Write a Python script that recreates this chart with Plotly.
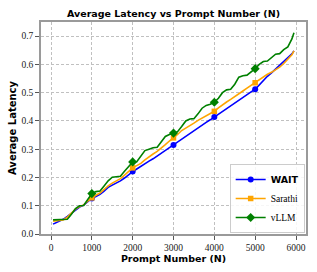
import plotly.graph_objects as go

prompt_n = [50, 100, 200, 300, 400, 500, 600, 700, 800, 900,
            1000, 1100, 1200, 1300, 1400, 1500, 1600, 1700, 1800, 1900,
            2000, 2100, 2200, 2300, 2400, 2500, 2600, 2700, 2800, 2900,
            3000, 3100, 3200, 3300, 3400, 3500, 3600, 3700, 3800, 3900,
            4000, 4100, 4200, 4300, 4400, 4500, 4600, 4700, 4800, 4900,
            5000, 5100, 5200, 5300, 5400, 5500, 5600, 5700, 5800, 5900, 5950]

wait_latency = [0.035, 0.038, 0.045, 0.052, 0.062, 0.074, 0.086, 0.095, 0.102, 0.114,
                0.126, 0.133, 0.140, 0.152, 0.165, 0.173, 0.180, 0.188, 0.198, 0.210,
                0.221, 0.230, 0.240, 0.250, 0.258, 0.266, 0.276, 0.285, 0.295, 0.306,
                0.315, 0.325, 0.338, 0.347, 0.356, 0.366, 0.377, 0.386, 0.395, 0.404,
                0.414, 0.425, 0.435, 0.445, 0.455, 0.466, 0.474, 0.483, 0.493, 0.503,
                0.512, 0.528, 0.545, 0.558, 0.570, 0.583, 0.597, 0.610, 0.623, 0.637, 0.648]

sarathi_latency = [0.045, 0.046, 0.048, 0.050, 0.060, 0.075, 0.088, 0.097, 0.103, 0.116,
                   0.128, 0.137, 0.145, 0.158, 0.170, 0.180, 0.188, 0.196, 0.208, 0.221,
                   0.234, 0.242, 0.250, 0.262, 0.274, 0.283, 0.292, 0.303, 0.316, 0.329,
                   0.340, 0.352, 0.366, 0.374, 0.382, 0.392, 0.402, 0.410, 0.418, 0.426,
                   0.434, 0.446, 0.458, 0.467, 0.476, 0.487, 0.497, 0.506, 0.516, 0.526,
                   0.535, 0.548, 0.558, 0.565, 0.572, 0.580, 0.590, 0.603, 0.617, 0.634, 0.648]

vllm_latency = [0.050, 0.050, 0.050, 0.050, 0.052, 0.070, 0.090, 0.100, 0.101, 0.122,
                0.143, 0.150, 0.152, 0.170, 0.188, 0.201, 0.202, 0.204, 0.222, 0.240,
                0.255, 0.256, 0.275, 0.295, 0.300, 0.305, 0.307, 0.328, 0.345, 0.352,
                0.357, 0.362, 0.380, 0.400, 0.407, 0.408, 0.425, 0.445, 0.455, 0.459,
                0.466, 0.480, 0.500, 0.510, 0.512, 0.530, 0.555, 0.560, 0.562, 0.572,
                0.585, 0.600, 0.610, 0.612, 0.625, 0.636, 0.638, 0.652, 0.662, 0.690, 0.712]

marker_every = 1000
x_ticks = [0, 1000, 2000, 3000, 4000, 5000, 6000]
y_ticks = [0.0, 0.1, 0.2, 0.3, 0.4, 0.5, 0.6, 0.7]
y_tick_labels = ["0.0", "0.1", "0.2", "0.3", "0.4", "0.5", "0.6", "0.7"]

SERIF = "Liberation Serif, DejaVu Serif, serif"
SANS = "DejaVu Sans, sans-serif"

marker_idx = [i for i, v in enumerate(prompt_n) if v % marker_every == 0]

series = [
    ("<b>WAIT</b>", SANS, wait_latency, "blue", "circle", 6),
    ("Sarathi", SERIF, sarathi_latency, "orange", "square", 5.5),
    ("vLLM", SERIF, vllm_latency, "green", "diamond", 7),
]

fig = go.Figure()
for name, fam, vals, color, sym, msize in series:
    fig.add_trace(go.Scatter(
        x=prompt_n, y=vals, mode="lines+markers",
        name=f"<span style='font-family:{fam}'>{name}</span>",
        line=dict(color=color, width=1.6),
        marker=dict(color=color, symbol=sym, size=msize, line=dict(width=0)),
        selectedpoints=marker_idx,
        selected=dict(marker=dict(opacity=1)),
        unselected=dict(marker=dict(opacity=0)),
    ))

axis_common = dict(
    showline=True, mirror=True, linecolor="#9a9a9a", linewidth=1.6,
    ticks="outside", ticklen=4, tickwidth=1, tickcolor="#555555",
    showgrid=True, gridcolor="#c0c0c0", gridwidth=0.8, griddash="3px,2px",
    zeroline=False,
    tickfont=dict(family=SERIF, size=9.5, color="#222222"),
)

fig.update_layout(
    width=317, height=272,
    margin=dict(l=41, r=11, t=21.5, b=38.3, autoexpand=False),
    paper_bgcolor="white", plot_bgcolor="white",
    title=dict(text="<b>Average Latency vs Prompt Number (N)</b>",
               font=dict(family=SANS, size=9.5, color="black"),
               x=0.5, xref="paper", xanchor="center",
               y=1 - 13.5 / 272, yanchor="middle"),
    xaxis=dict(axis_common, range=[-245, 6245], tickvals=x_ticks,
               title=dict(text="<b>Prompt Number (N)</b>", standoff=3,
                          font=dict(family=SANS, size=9.5, color="black"))),
    yaxis=dict(axis_common, range=[0, 0.75], tickvals=y_ticks, ticktext=y_tick_labels,
               title=dict(text="<b>Average Latency</b>", standoff=3,
                          font=dict(family=SANS, size=10, color="black"))),
    legend=dict(x=0.995, y=0.005, xanchor="right", yanchor="bottom",
                bgcolor="rgba(255,255,255,0.85)", bordercolor="#cccccc", borderwidth=1,
                font=dict(family=SERIF, size=9.5, color="black"),
                tracegroupgap=0, itemwidth=30),
    showlegend=True,
)

fig.write_html("out.html", config={"displayModeBar": False},
               post_script="document.body.style.margin='0';document.body.style.padding='0';")
